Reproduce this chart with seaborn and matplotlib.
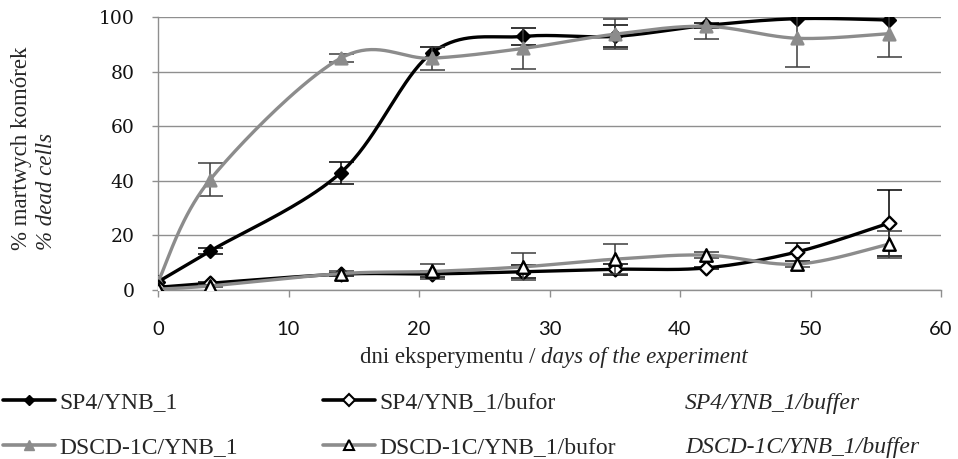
import numpy as np
import pandas as pd
import matplotlib
matplotlib.use("Agg")
import matplotlib.pyplot as plt
from matplotlib.lines import Line2D
import seaborn as sns

# Days of the experiment
days = [0, 4, 14, 21, 28, 35, 42, 49, 56]

# % dead cells (mean) and error bar half-widths for each strain / medium
nan = np.nan
sp4_ynb = [3, 14.3, 43, 87, 93, 93, 97, 99.5, 99]
sp4_ynb_err = [nan, 1, 4, 2, 3, 4, 1, nan, nan]

dscd_ynb = [3, 40.5, 85, 85, 88.6, 93.8, 96.7, 92.3, 94]
dscd_ynb_err = [nan, 6, 1.5, 4.2, 7.5, 5.5, 4.5, 10.5, 8.5]

sp4_buf = [1, 2.5, 5.8, 5.9, 6.7, 7.6, 8.1, 14, 24.5]
sp4_buf_err = [nan, 0.5, 0.5, 1, 2.3, 2, 0.5, 3.2, 12]

dscd_buf = [0.3, 1.5, 6, 6.8, 8.5, 11.3, 12.8, 9.5, 16.8]
dscd_buf_err = [nan, 0.5, 1, 2.8, 5, 5.5, 1, 1, 5]

labels_pl = ["SP4/YNB_1", "DSCD-1C/YNB_1", "SP4/YNB_1/bufor", "DSCD-1C/YNB_1/bufor"]
labels_en = ["SP4/YNB_1/buffer", "DSCD-1C/YNB_1/buffer"]
x_ticks = [0, 10, 20, 30, 40, 50, 60]
y_ticks = [0, 20, 40, 60, 80, 100]

BLACK = "#000000"
GREY = "#8c8c8c"
GRID = "#8f8f8f"
SERIF = "Liberation Serif"


def smooth_curve(x, y, n=40):
    """Cardinal (Catmull-Rom style) Bezier smoothing through the points."""
    pts = np.column_stack([x, y]).astype(float)
    out = []
    last = len(pts) - 2
    for i in range(len(pts) - 1):
        p0 = pts[max(i - 1, 0)]
        p1 = pts[i]
        p2 = pts[i + 1]
        p3 = pts[min(i + 2, len(pts) - 1)]
        c1 = p1 + (p2 - p0) / 6.0
        c2 = p2 - (p3 - p1) / 6.0
        t = np.linspace(0, 1, n, endpoint=(i == last))[:, None]
        seg = ((1 - t) ** 3) * p1 + 3 * ((1 - t) ** 2) * t * c1 \
            + 3 * (1 - t) * (t ** 2) * c2 + (t ** 3) * p2
        out.append(seg)
    arr = np.vstack(out)
    return pd.DataFrame({"day": arr[:, 0], "value": arr[:, 1]})


sns.set_style("white")
plt.rcParams["font.family"] = ["DejaVu Sans"]

W, H = 958, 459
fig = plt.figure(figsize=(W / 100, H / 100), dpi=100)


def fx(px):
    return px / W


def fy(py):
    return 1 - py / H


ax = fig.add_axes([fx(158), fy(290), fx(941) - fx(158), fy(17.3) - fy(290)])

series = [
    (sp4_ynb, sp4_ynb_err, BLACK, "D", BLACK, BLACK, 6.5, BLACK),
    (dscd_ynb, dscd_ynb_err, GREY, "^", GREY, GREY, 8.5, "#3c3c3c"),
    (sp4_buf, sp4_buf_err, BLACK, "D", "white", BLACK, 7, BLACK),
    (dscd_buf, dscd_buf_err, GREY, "^", "white", BLACK, 9, "#3c3c3c"),
]

for k, (vals, errs, lc, mk, mfc, mec, ms, ecol) in enumerate(series):
    z = 3 + k
    ok = ~np.isnan(np.asarray(errs, dtype=float))
    ax.errorbar(np.asarray(days)[ok], np.asarray(vals)[ok],
                yerr=np.asarray(errs, dtype=float)[ok], fmt="none",
                ecolor=ecol, elinewidth=1.1, capsize=9, capthick=1.1, zorder=z)
    curve = smooth_curve(days, vals)
    sns.lineplot(data=curve, x="day", y="value", sort=False, estimator=None,
                 color=lc, linewidth=2.4, ax=ax, zorder=z)
    pts = pd.DataFrame({"day": days, "value": vals})
    sns.scatterplot(data=pts, x="day", y="value", marker=mk, s=ms ** 2,
                    color=mfc, edgecolor=mec, linewidth=1.7, ax=ax,
                    zorder=z + 0.5, legend=False)

ax.set_xlim(0, 60)
ax.set_ylim(0, 100)
ax.set_xticks(x_ticks)
ax.set_yticks(y_ticks)
ax.set_xlabel("")
ax.set_ylabel("")
ax.grid(axis="y", color=GRID, linewidth=1.0)
ax.grid(axis="x", visible=False)
ax.set_axisbelow(True)
for side in ["top", "right"]:
    ax.spines[side].set_visible(False)
for side in ["left", "bottom"]:
    ax.spines[side].set_color(GRID)
    ax.spines[side].set_linewidth(1.0)
ax.tick_params(axis="x", direction="out", length=5, width=1, color=GRID,
               pad=17, labelsize=14.5, labelcolor="#111111", bottom=True)
ax.tick_params(axis="y", direction="out", length=4, width=1, color=GRID,
               pad=13, labelsize=13.5, labelcolor="#111111", left=True)
for t in ax.get_xticklabels():
    t.set_fontfamily("Lato")
for t in ax.get_yticklabels():
    t.set_fontfamily("DejaVu Serif")

# Axis titles (Polish regular, English italic)
fig.text(fx(22), fy(250), "% martwych komórek", rotation=90, ha="center",
         va="bottom", fontsize=16.5, family=SERIF)
fig.text(fx(47), fy(250), "% dead cells", rotation=90, ha="center",
         va="bottom", fontsize=16.5, family=SERIF, style="italic")
fig.text(fx(535), fy(358), "dni eksperymentu /", ha="right", va="center",
         fontsize=16.5, family=SERIF)
fig.text(fx(541), fy(358), "days of the experiment", ha="left", va="center",
         fontsize=16.5, family=SERIF, style="italic")

# Legend
handles = [
    Line2D([], [], color=BLACK, lw=2.6, marker="D", ms=5, mfc=BLACK, mec=BLACK),
    Line2D([], [], color=GREY, lw=2.6, marker="^", ms=7, mfc=GREY, mec=GREY),
    Line2D([], [], color=BLACK, lw=2.6, marker="D", ms=6, mfc="white", mec=BLACK, mew=1.5),
    Line2D([], [], color=GREY, lw=2.6, marker="^", ms=7, mfc="white", mec=BLACK, mew=1.5),
]
common = dict(frameon=False, loc="upper left", borderpad=0, borderaxespad=0,
              labelspacing=0.97, handlelength=2.2, handletextpad=0.2,
              prop={"family": SERIF, "size": 17})
leg1 = fig.legend(handles[:2], labels_pl[:2], bbox_to_anchor=(fx(3), fy(392)), **common)
leg2 = fig.legend(handles[2:], labels_pl[2:], bbox_to_anchor=(fx(323), fy(392)), **common)
blank = [Line2D([], [], linestyle="none"), Line2D([], [], linestyle="none")]
common3 = dict(common)
common3.update(handlelength=0, handletextpad=0,
               prop={"family": SERIF, "size": 17, "style": "italic"})
leg3 = fig.legend(blank, labels_en, bbox_to_anchor=(fx(685), fy(392)), **common3)

fig.savefig("out.png", dpi=100)
